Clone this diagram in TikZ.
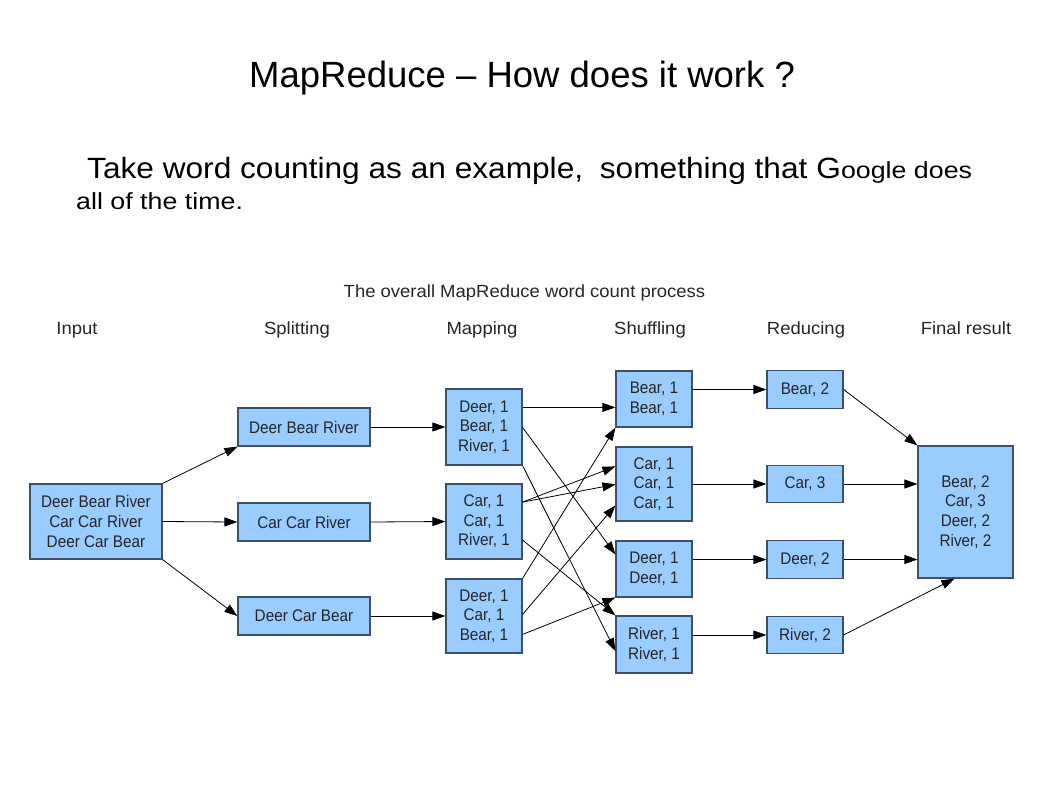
\documentclass[tikz,border=0pt]{standalone}
\usepackage{fontspec}
\setmainfont{Liberation Sans}
\newfontfamily\dfont[FakeStretch=1.05]{Liberation Sans}
\newfontfamily\bxfont[FakeStretch=0.91]{Liberation Sans}
\newfontfamily\sbigfont[FakeStretch=1.08]{Liberation Sans}
\newfontfamily\ssmallfont[FakeStretch=1.15]{Liberation Sans}
\usetikzlibrary{arrows.meta,calc}
\definecolor{boxfill}{RGB}{153,204,255}
\definecolor{boxline}{RGB}{60,80,110}
\begin{document}
\begin{tikzpicture}[x=1pt,y=-1pt,
  box/.style={draw=boxline, line width=1.2pt, fill=boxfill, inner sep=0pt, align=center,
    font=\bxfont\fontsize{16.8}{19.6}\selectfont, text=black!85},
  conn/.style={line width=0.8pt, -{Triangle[length=13pt,width=9pt]}},
  stage/.style={font=\dfont\fontsize{17.6}{20}\selectfont, anchor=base, inner sep=0pt, text=black!85},
]
\fill[white] (0,0) rectangle (1058,793);
\useasboundingbox (0,0) rectangle (1058,793);

% titles
\node[anchor=base west, inner sep=0pt, font=\fontsize{36.5}{40}\selectfont] (title) at (249,87) {MapReduce -- How does it work ?};
\node[anchor=base west, inner sep=0pt] (sub1) at (87,178.3) {\sbigfont\fontsize{29.3}{32}\selectfont Take word counting as an example,\hspace{8pt} something that G{\ssmallfont\fontsize{23.3}{26}\selectfont oogle does}};
\node[anchor=base west, inner sep=0pt] (sub2) at (76,209.3) {\ssmallfont\fontsize{23.3}{26}\selectfont all of the time.};

\node[stage] (dtitle) at (524.5,297.7) {The overall MapReduce word count process};
\node[stage] (lin) at (77,334.3) {Input};
\node[stage] (lsp) at (297,334.3) {Splitting};
\node[stage] (lmap) at (482,334.3) {Mapping};
\node[stage] (lsh) at (650,334.3) {Shuffling};
\node[stage] (lred) at (806,334.3) {Reducing};
\node[stage] (lfin) at (966,334.3) {Final result};

% boxes
\node[box, minimum width=132pt, minimum height=75pt] (in) at (96,521.5) {Deer Bear River\\Car Car River\\Deer Car Bear};

\node[box, minimum width=132pt, minimum height=38pt] (s1) at (304,427) {Deer Bear River};
\node[box, minimum width=132pt, minimum height=38pt] (s2) at (304,522) {Car Car River};
\node[box, minimum width=132pt, minimum height=38pt] (s3) at (304,616) {Deer Car Bear};

\node[box, minimum width=76pt, minimum height=76pt] (m1) at (484,427) {Deer, 1\\Bear, 1\\River, 1};
\node[box, minimum width=76pt, minimum height=75pt] (m2) at (484,521.5) {Car, 1\\Car, 1\\River, 1};
\node[box, minimum width=76pt, minimum height=74pt] (m3) at (484,616) {Deer, 1\\Car, 1\\Bear, 1};

\node[box, minimum width=76pt, minimum height=56pt] (sh1) at (654,399) {Bear, 1\\Bear, 1};
\node[box, minimum width=76pt, minimum height=74pt] (sh2) at (654,484) {Car, 1\\Car, 1\\Car, 1};
\node[box, minimum width=76pt, minimum height=56pt] (sh3) at (654,569) {Deer, 1\\Deer, 1};
\node[box, minimum width=76pt, minimum height=57pt] (sh4) at (654,644.5) {River, 1\\River, 1};

\node[box, minimum width=76pt, minimum height=37.5pt] (r1) at (805,389.5) {Bear, 2};
\node[box, minimum width=76pt, minimum height=37.5pt] (r2) at (805,484) {Car, 3};
\node[box, minimum width=76pt, minimum height=37.5pt] (r3) at (805,559.5) {Deer, 2};
\node[box, minimum width=76pt, minimum height=37.5pt] (r4) at (805,635) {River, 2};

\node[box, minimum width=95pt, minimum height=132pt] (fin) at (965.5,512) {Bear, 2\\Car, 3\\Deer, 2\\River, 2};

% input -> splitting
\draw[conn] (in.north east) -- (s1.south west);
\draw[conn] (in.east) -- (s2.west);
\draw[conn] (in.south east) -- (s3.west);

% splitting -> mapping
\draw[conn] (s1.east) -- (m1.west);
\draw[conn] (s2.east) -- (m2.west);
\draw[conn] (s3.east) -- (m3.west);

% mapping -> shuffling
\draw[conn] ([yshift=-19pt]m1.north east) -- ([yshift=-37pt]sh1.north west);
\draw[conn] ([yshift=-39pt]m1.north east) -- ([yshift=-14pt]sh3.north west);
\draw[conn] (m1.south east) -- ([yshift=-35.7pt]sh4.north west);
\draw[conn] ([yshift=-18.7pt]m2.north east) -- ([yshift=-20pt]sh2.north west);
\draw[conn] ([yshift=-18.7pt]m2.north east) -- ([yshift=-38pt]sh2.north west);
\draw[conn] ([yshift=-56.7pt]m2.north east) -- (sh4.north west);
\draw[conn] (m3.north east) -- (sh1.south west);
\draw[conn] ([yshift=-36pt]m3.north east) -- ([yshift=-59pt]sh2.north west);
\draw[conn] ([yshift=-56pt]m3.north east) -- (sh3.south west);

% shuffling -> reducing
\draw[conn] (sh1.east |- r1.west) -- (r1.west);
\draw[conn] (sh2.east |- r2.west) -- (r2.west);
\draw[conn] (sh3.east |- r3.west) -- (r3.west);
\draw[conn] (sh4.east |- r4.west) -- (r4.west);

% reducing -> final
\draw[conn] (r1.east) -- (fin.north west);
\draw[conn] (r2.east) -- (fin.west |- r2.east);
\draw[conn] (r3.east) -- (fin.west |- r3.east);
\draw[conn] (r4.east) -- ([xshift=37pt]fin.south west);
\end{tikzpicture}
\end{document}
